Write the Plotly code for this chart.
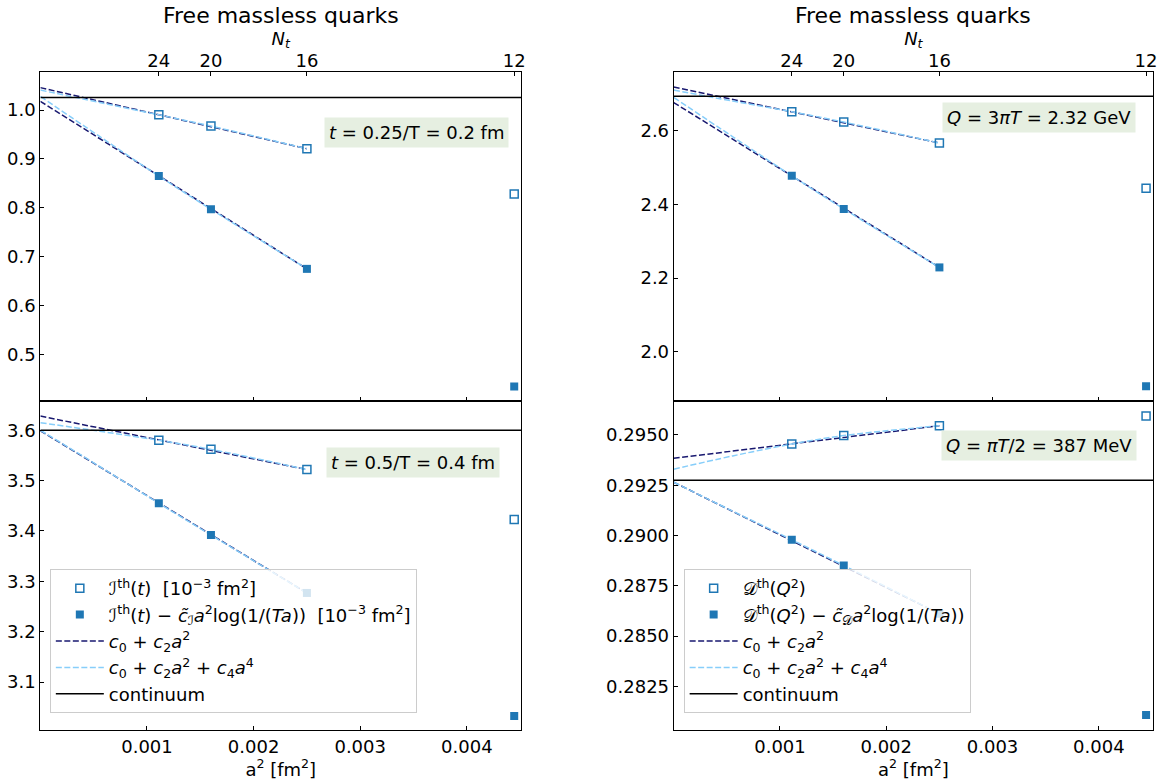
import plotly.graph_objects as go

# ---------------- data ----------------
NT_LABELS = ["24", "20", "16", "12"]
A2 = [0.0011111, 0.0016, 0.0025, 0.0044444]          # a^2 [fm^2] for N_t = 24, 20, 16, 12
FIT_A2 = [0.0, 0.000556, 0.0011111, 0.0016, 0.0025]  # a^2 where fit curves were read
X_RANGE = [0.0, 0.00451]

# top-left: t = 0.25/T
I1_raw = [0.9904, 0.9673, 0.921, 0.828]
I1_sub = [0.865, 0.797, 0.675, 0.434]
I1_cont = 1.026
I1_raw_lin = [1.046, 1.0183, 0.9905, 0.966, 0.921]
I1_raw_quad = [1.041, 1.0155, 0.9904, 0.9673, 0.921]
I1_sub_lin = [1.018, 0.942, 0.866, 0.799, 0.675]
I1_sub_quad = [1.028, 0.946, 0.865, 0.797, 0.675]

# bottom-left: t = 0.5/T
I2_raw = [3.580, 3.562, 3.522, 3.423]
I2_sub = [3.455, 3.392, 3.277, 3.033]
I2_cont = 3.600
I2_raw_lin = [3.628, 3.604, 3.581, 3.560, 3.522]
I2_raw_quad = [3.615, 3.598, 3.580, 3.562, 3.522]
I2_sub_lin = [3.599, 3.527, 3.456, 3.393, 3.277]
I2_sub_quad = [3.600, 3.528, 3.455, 3.392, 3.277]

# top-right: Q = 3 pi T
D1_raw = [2.652, 2.624, 2.567, 2.444]
D1_sub = [2.478, 2.388, 2.229, 1.906]
D1_cont = 2.694
D1_raw_lin = [2.719, 2.685, 2.651, 2.622, 2.567]
D1_raw_quad = [2.711, 2.681, 2.652, 2.624, 2.567]
D1_sub_lin = [2.677, 2.578, 2.478, 2.390, 2.229]
D1_sub_quad = [2.691, 2.584, 2.478, 2.388, 2.229]

# bottom-right: Q = pi T / 2
D2_raw = [0.29455, 0.29497, 0.29546, 0.29594]
D2_sub = [0.28979, 0.28851, 0.28611, 0.28108]
D2_cont = 0.29275
D2_raw_lin = [0.29384, 0.29420, 0.29456, 0.29488, 0.29546]
D2_raw_quad = [0.29330, 0.29396, 0.29455, 0.29497, 0.29546]
D2_sub_lin = [0.29265, 0.29120, 0.28975, 0.28846, 0.28611]
D2_sub_quad = [0.29265, 0.29121, 0.28979, 0.28851, 0.28611]

# ---------------- style ----------------
BLUE = "#1f77b4"
NAVY = "#191970"
LIGHT = "#87cefa"
FONT = "DejaVu Sans"
DASH = "6px,2.5px"

LEG_I_RAW = "ℐ<sup>th</sup>(<i>t</i>)  [10<sup>−3</sup> fm<sup>2</sup>]"
LEG_I_SUB = ("ℐ<sup>th</sup>(<i>t</i>) − <i>c̃</i><sub>ℐ</sub><i>a</i><sup>2</sup>"
             "log(1/(<i>Ta</i>))  [10<sup>−3</sup> fm<sup>2</sup>]")
LEG_D_RAW = "𝒟<sup>th</sup>(<i>Q</i><sup>2</sup>)"
LEG_D_SUB = ("𝒟<sup>th</sup>(<i>Q</i><sup>2</sup>) − <i>c̃</i><sub>𝒟</sub><i>a</i><sup>2</sup>"
             "log(1/(<i>Ta</i>))")
LEG_LIN = "<i>c</i><sub>0</sub> + <i>c</i><sub>2</sub><i>a</i><sup>2</sup>"
LEG_QUAD = "<i>c</i><sub>0</sub> + <i>c</i><sub>2</sub><i>a</i><sup>2</sup> + <i>c</i><sub>4</sub><i>a</i><sup>4</sup>"

fig = go.Figure()


def add_panel(xa, ya, raw, sub, cont, raw_lin, raw_quad, sub_lin, sub_quad,
              leg_raw, leg_sub, legend, show):
    common = dict(xaxis=xa, yaxis=ya, legend=legend)
    for ys in (raw_lin, sub_lin):
        fig.add_trace(go.Scatter(x=FIT_A2, y=ys, mode="lines", name=LEG_LIN,
                                 line=dict(color=NAVY, width=1.5, dash=DASH),
                                 showlegend=False, **common))
    for ys in (raw_quad, sub_quad):
        fig.add_trace(go.Scatter(x=FIT_A2, y=ys, mode="lines", name=LEG_QUAD,
                                 line=dict(color=LIGHT, width=1.5, dash=DASH, shape="spline"),
                                 showlegend=False, **common))
    fig.add_trace(go.Scatter(x=A2, y=raw, mode="markers", name=leg_raw,
                             marker=dict(symbol="square-open", size=8, color=BLUE,
                                         line=dict(width=1.5, color=BLUE)),
                             showlegend=show, **common))
    fig.add_trace(go.Scatter(x=A2, y=sub, mode="markers", name=leg_sub,
                             marker=dict(symbol="square", size=8, color=BLUE),
                             showlegend=show, **common))
    if show:
        fig.add_trace(go.Scatter(x=[None], y=[None], mode="lines", name=LEG_LIN,
                                 line=dict(color=NAVY, width=1.5, dash=DASH), **common))
        fig.add_trace(go.Scatter(x=[None], y=[None], mode="lines", name=LEG_QUAD,
                                 line=dict(color=LIGHT, width=1.5, dash=DASH), **common))
    fig.add_trace(go.Scatter(x=X_RANGE, y=[cont, cont], mode="lines", name="continuum",
                             line=dict(color="black", width=1.5),
                             showlegend=show, **common))


add_panel("x2", "y2", I1_raw, I1_sub, I1_cont, I1_raw_lin, I1_raw_quad, I1_sub_lin, I1_sub_quad,
          LEG_I_RAW, LEG_I_SUB, "legend", False)
add_panel("x", "y", I2_raw, I2_sub, I2_cont, I2_raw_lin, I2_raw_quad, I2_sub_lin, I2_sub_quad,
          LEG_I_RAW, LEG_I_SUB, "legend", True)
add_panel("x5", "y5", D1_raw, D1_sub, D1_cont, D1_raw_lin, D1_raw_quad, D1_sub_lin, D1_sub_quad,
          LEG_D_RAW, LEG_D_SUB, "legend2", False)
add_panel("x4", "y4", D2_raw, D2_sub, D2_cont, D2_raw_lin, D2_raw_quad, D2_sub_lin, D2_sub_quad,
          LEG_D_RAW, LEG_D_SUB, "legend2", True)

# invisible traces so the top N_t axes are drawn
fig.add_trace(go.Scatter(x=A2, y=I1_raw, xaxis="x3", yaxis="y2", mode="markers",
                         marker=dict(opacity=0), showlegend=False, hoverinfo="skip"))
fig.add_trace(go.Scatter(x=A2, y=D1_raw, xaxis="x6", yaxis="y5", mode="markers",
                         marker=dict(opacity=0), showlegend=False, hoverinfo="skip"))

# body margin is removed by the post script, so paper pixels == window pixels
W, H = 1168, 780


def fx(px):
    return px / W


def fy(py):
    return (H - py) / H


LX = [fx(40.5), fx(523)]
RX = [fx(676), fx(1157)]
TOPY = [fy(401), fy(72)]
BOTY = [fy(730), fy(401)]

tickfont = dict(family=FONT, size=18, color="black")
frame = dict(showline=True, linecolor="black", linewidth=1, mirror=True, showgrid=False,
             zeroline=False, ticks="inside", ticklen=4, tickcolor="black", tickfont=tickfont)

xb = dict(frame, range=X_RANGE, tickvals=[0.001, 0.002, 0.003, 0.004],
          ticktext=["0.001", "0.002", "0.003", "0.004"])
xtop_hidden = dict(xb, showticklabels=False)
xnt = dict(showline=False, showgrid=False, zeroline=False, ticks="inside", ticklen=4,
           tickcolor="black", tickfont=tickfont, range=X_RANGE, tickvals=A2,
           ticktext=NT_LABELS, side="top",
           title=dict(text="<i>N<sub>t</sub></i>", font=dict(family=FONT, size=18, color="black"),
                      standoff=0))
xtitle = dict(text="a<sup>2</sup> [fm<sup>2</sup>]", font=dict(family=FONT, size=18, color="black"),
              standoff=2)

legend_common = dict(xanchor="left", yanchor="top", itemwidth=48,
                     bgcolor="rgba(255,255,255,0.8)", bordercolor="#cccccc", borderwidth=1,
                     font=dict(family=FONT, size=18, color="black"), tracegroupgap=0)

fig.update_layout(
    width=W, height=H,
    margin=dict(l=0, r=0, t=0, b=0),
    paper_bgcolor="white", plot_bgcolor="white",
    font=dict(family=FONT, size=18, color="black"),
    xaxis=dict(xb, domain=LX, anchor="y", title=xtitle),
    yaxis=dict(frame, domain=BOTY, anchor="x", range=[3.005, 3.658], dtick=0.1, tickformat=".1f"),
    xaxis2=dict(xtop_hidden, domain=LX, anchor="y2"),
    yaxis2=dict(frame, domain=TOPY, anchor="x2", range=[0.4045, 1.078], dtick=0.1, tickformat=".1f"),
    xaxis3=dict(xnt, overlaying="x2", anchor="y2"),
    xaxis4=dict(xb, domain=RX, anchor="y4", title=xtitle),
    yaxis4=dict(frame, domain=BOTY, anchor="x4", range=[0.28033, 0.29669], dtick=0.0025,
                tickformat=".4f"),
    xaxis5=dict(xtop_hidden, domain=RX, anchor="y5"),
    yaxis5=dict(frame, domain=TOPY, anchor="x5", range=[1.866, 2.760], dtick=0.2, tickformat=".1f"),
    xaxis6=dict(xnt, overlaying="x5", anchor="y5"),
    legend=dict(legend_common, x=fx(50), y=fy(569)),
    legend2=dict(legend_common, x=fx(686), y=fy(569)),
    showlegend=True,
)

# titles
for cx in [(LX[0] + LX[1]) / 2, (RX[0] + RX[1]) / 2]:
    fig.add_annotation(text="Free massless quarks", x=cx, y=fy(15), xref="paper", yref="paper",
                       showarrow=False, font=dict(family=FONT, size=22, color="black"),
                       xanchor="center", yanchor="middle")

BOX = "#e6efe1"
boxes = [
    ("<i>t</i> = 0.25/T = 0.2 fm", 418, 133),
    ("<i>t</i> = 0.5/T = 0.4 fm", 414, 462),
    ("<i>Q</i> = 3<i>πT</i> = 2.32 GeV", 1043, 117),
    ("<i>Q</i> = <i>πT</i>/2 = 387 MeV", 1043, 445.5),
]
for txt, px, py in boxes:
    fig.add_annotation(text=txt, x=fx(px), y=fy(py), xref="paper", yref="paper",
                       showarrow=False, font=dict(family=FONT, size=18, color="black"),
                       xanchor="center", yanchor="middle", bgcolor=BOX, borderpad=4)

fig.write_html("out.html", config=dict(displayModeBar=False),
               post_script="document.body.style.margin='0';document.body.style.overflow='hidden';")
